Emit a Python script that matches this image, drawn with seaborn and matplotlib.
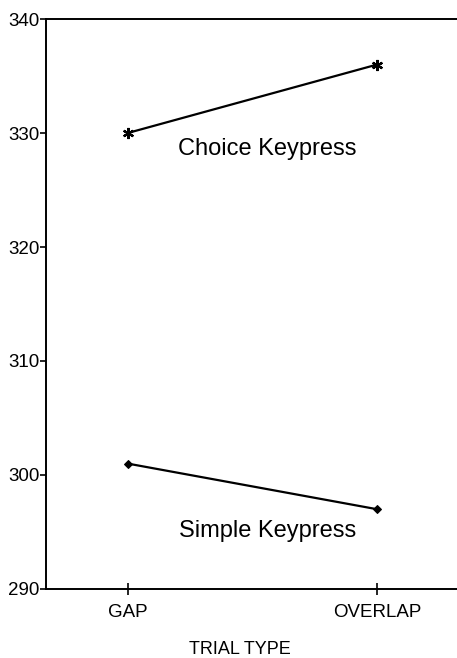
import matplotlib
matplotlib.use("Agg")
import matplotlib.pyplot as plt
import seaborn as sns
import pandas as pd

trial_types = ["GAP", "OVERLAP"]
choice_rt = [330, 336]
simple_rt = [301, 297]
y_ticks = [290, 300, 310, 320, 330, 340]

choice_df = pd.DataFrame({"trial": trial_types, "rt": choice_rt})
simple_df = pd.DataFrame({"trial": trial_types, "rt": simple_rt})

sns.set_style("white")
plt.rcParams["font.family"] = ["Liberation Sans", "DejaVu Sans"]
plt.rcParams["text.color"] = "black"

fig = plt.figure(figsize=(4.57, 6.58), dpi=100)
ax = fig.add_axes([0.1007, 0.1049, 0.8993 + 0.01, 0.8662])

# Choice keypress: asterisk markers
sns.lineplot(data=choice_df, x="trial", y="rt", color="black", linewidth=1.6,
             marker=(6, 2, 0), markersize=8, markeredgewidth=1.6,
             markeredgecolor="black", ax=ax)
# Simple keypress: small filled diamonds
sns.lineplot(data=simple_df, x="trial", y="rt", color="black", linewidth=1.6,
             marker="D", markersize=4.5, markeredgecolor="black", ax=ax)

ax.set_xlim(-0.328, 1.34)
ax.set_ylim(290, 340)
ax.set_yticks(y_ticks)
ax.set_yticklabels([str(t) for t in y_ticks], fontsize=13.5, color="black")
ax.set_xticks([0, 1])
ax.set_xticklabels(trial_types, fontsize=13.5, color="black")

for s in ["left", "bottom", "top"]:
    ax.spines[s].set_color("black")
    ax.spines[s].set_linewidth(1.4)
ax.spines["right"].set_visible(False)

ax.tick_params(axis="y", left=True, direction="out", length=4, width=1.2,
               colors="black", pad=0.5)
ax.tick_params(axis="x", bottom=True, direction="inout", length=9, width=1.2,
               colors="black", pad=6)

ax.text(0.56, 328.1, "Choice Keypress", fontsize=17, ha="center", va="baseline")
ax.text(0.56, 294.6, "Simple Keypress", fontsize=17, ha="center", va="baseline")

ax.set_xlabel("")
ax.set_ylabel("")
fig.text(0.525, 0.006, "TRIAL TYPE", fontsize=13, ha="center", va="baseline")

fig.savefig("out.png", dpi=100)
